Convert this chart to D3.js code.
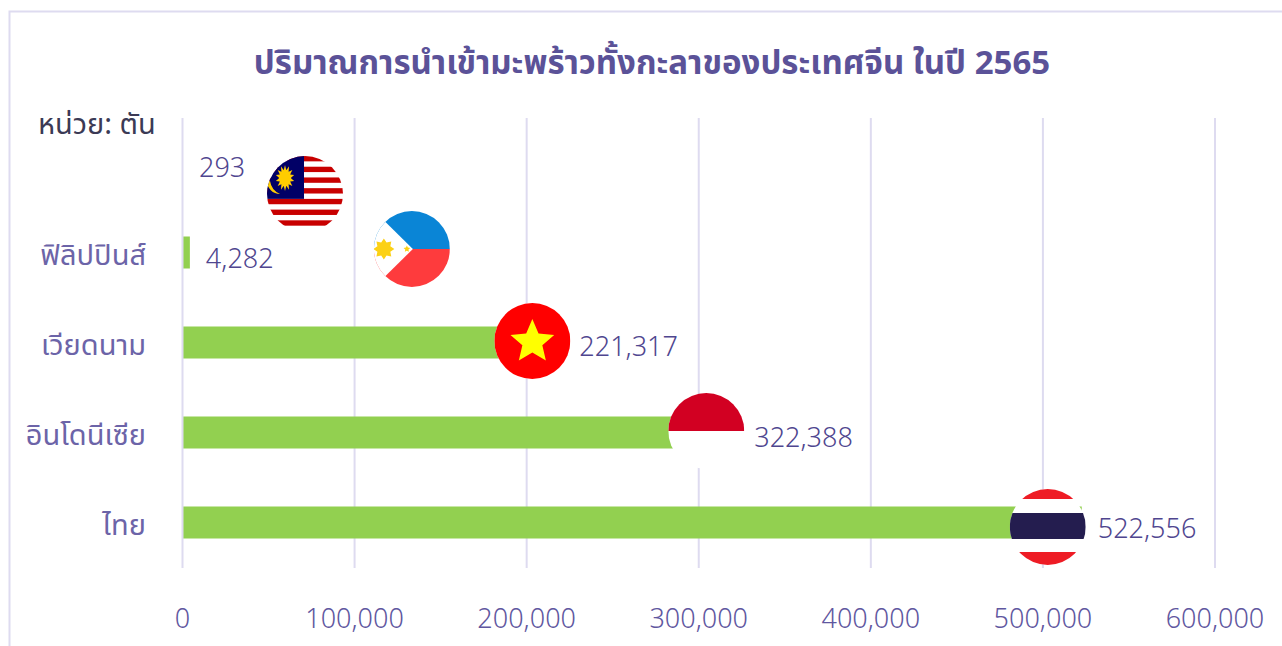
<!DOCTYPE html>
<html lang="th"><head><meta charset="utf-8">
<script src="https://cdn.jsdelivr.net/npm/d3@7"></script>
<style>html,body{margin:0;padding:0;background:#fff;overflow:hidden}svg{display:block}
text{font-family:"Noto Sans Thai","Noto Sans","Noto Sans CJK SC",sans-serif;font-weight:400}
text.num{font-family:"Noto Sans",sans-serif;font-weight:300}</style></head>
<body><svg id="c" width="1282" height="646"></svg>
<script>
const titleText = "ปริมาณการนำเข้ามะพร้าวทั้งกะลาของประเทศจีน ในปี 2565";
const unitText = "หน่วย: ตัน";
const categories = ["มาเลเซีย","ฟิลิปปินส์","เวียดนาม","อินโดนีเซีย","ไทย"];
const values = [293,4282,221317,322388,522556];
const tickValues = [0,100000,200000,300000,400000,500000,600000];

const svg = d3.select("#c");
const x = d3.scaleLinear().domain([0,600000]).range([182.5,1215]);
const y = d3.scaleBand().domain(categories).range([118,568]);
const purple="#4f468f", axisPurple="#5f57a0", grid="#dedbf0";

svg.append("path").attr("d","M9.5,646V11.5H1282").attr("fill","none").attr("stroke",grid).attr("stroke-width",2);
svg.append("text").attr("x",652).attr("y",74).attr("text-anchor","middle").attr("font-size",33).style("font-weight",700).attr("fill","#5b5298").text(titleText);
svg.append("text").attr("x",38).attr("y",134).attr("font-size",29).attr("fill","#3b3a55").text(unitText);

svg.append("g").selectAll("line").data(tickValues.slice(1)).join("line")
 .attr("x1",d=>x(d)).attr("x2",d=>x(d)).attr("y1",118).attr("y2",568).attr("stroke",grid).attr("stroke-width",2);
svg.append("g").selectAll("text").data(tickValues).join("text").attr("class","num")
 .attr("x",d=>x(d)).attr("y",628).attr("text-anchor","middle").attr("font-size",27).attr("fill",axisPurple).text(d3.format(","));
svg.append("g").selectAll("rect").data(values).join("rect")
 .attr("x",x(0)).attr("y",(d,i)=>y(categories[i])+y.bandwidth()/2-16.5).attr("height",32)
 .attr("width",d=>x(d)-x(0)).attr("fill","#92d050");
svg.append("line").attr("x1",x(0)).attr("x2",x(0)).attr("y1",118).attr("y2",568).attr("stroke",grid).attr("stroke-width",2);
svg.append("g").selectAll("text").data(categories.slice(1)).join("text")
 .attr("x",146).attr("y",d=>y(d)+y.bandwidth()/2+12).attr("text-anchor","end").attr("font-size",29).attr("fill","#6c64a8").text(d=>d);

// label and flag placement, relative to the scaled value
const labelDx=[16,16,16,17,16], labelDy=[14,15,13,14,15];
const flagDx=[122,222,-31,-31,-34], flagDy=[31,-4,-2,-2,4];
svg.append("g").selectAll("text").data(values).join("text").attr("class","num")
 .attr("x",(d,i)=>x(d)+labelDx[i]).attr("y",(d,i)=>y(categories[i])+y.bandwidth()/2+labelDy[i])
 .attr("font-size",27).attr("fill",purple).text(d3.format(","));

const R=38, defs=svg.append("defs");
defs.append("clipPath").attr("id","fc").append("circle").attr("r",R);
const flags=svg.append("g").selectAll("g").data(values).join("g")
 .attr("transform",(d,i)=>`translate(${x(d)+flagDx[i]},${y(categories[i])+y.bandwidth()/2+flagDy[i]})`)
 .append("g").attr("clip-path","url(#fc)");
const star=(r,n,inner)=>d3.range(n*2).map(k=>{const a=k*Math.PI/n-Math.PI/2,q=k%2?inner:r;return [q*Math.cos(a),q*Math.sin(a)].map(v=>v.toFixed(2)).join(",")}).join(" ");
flags.append("rect").attr("x",-R).attr("y",-R).attr("width",2*R).attr("height",2*R).attr("fill","#fff");
// Malaysia
{const g=flags.filter((d,i)=>i===0);
 const h=5.36;
 d3.range(7).forEach(k=>g.append("rect").attr("x",-R).attr("y",-R+k*2*h).attr("width",2*R).attr("height",h).attr("fill","#c80000"));
 g.append("rect").attr("x",-R).attr("y",-R).attr("width",R-1).attr("height",8*h).attr("fill","#010066");
 g.append("polygon").attr("transform","translate(-20,-16) scale(.72,1)").attr("points",star(13,14,8)).attr("fill","#ffcc00");
 g.append("path").attr("d","M-38,-13A13,13 0 0 0 -25,0A17,17 0 0 1 -35,-13Z").attr("fill","#ffcc00");}
// Philippines
{const g=flags.filter((d,i)=>i===1);
 g.append("rect").attr("x",-R).attr("y",-R).attr("width",2*R).attr("height",R).attr("fill","#0a85d6");
 g.append("rect").attr("x",-R).attr("y",0).attr("width",2*R).attr("height",R).attr("fill","#fe3b3d");
 g.append("polygon").attr("points",`${-R-30},${-R-30} 1,0 ${-R-30},${R+30}`).attr("fill","#fff");
 g.append("polygon").attr("transform","translate(-28,0)").attr("points",star(10.5,8,7)).attr("fill","#fcd116");
 g.append("polygon").attr("transform","translate(-5,0)").attr("points",star(3.5,5,1.7)).attr("fill","#fcd116");}
// Vietnam
{const g=flags.filter((d,i)=>i===2);
 g.append("rect").attr("x",-R).attr("y",-R).attr("width",2*R).attr("height",2*R).attr("fill","#ff0000");
 g.append("polygon").attr("transform","translate(0,1)").attr("points",star(23,5,10.5)).attr("fill","#ffff00");}
// Indonesia
{const g=flags.filter((d,i)=>i===3);
 g.append("rect").attr("x",-R).attr("y",-R).attr("width",2*R).attr("height",R).attr("fill","#d20022");}
// Thailand
{const g=flags.filter((d,i)=>i===4);
 g.append("rect").attr("x",-R).attr("y",-R).attr("width",2*R).attr("height",10).attr("fill","#ee1c25");
 g.append("rect").attr("x",-R).attr("y",25).attr("width",2*R).attr("height",13).attr("fill","#ee1c25");
 g.append("rect").attr("x",-R).attr("y",-14).attr("width",2*R).attr("height",26).attr("fill","#241d4f");}
</script></body></html>
